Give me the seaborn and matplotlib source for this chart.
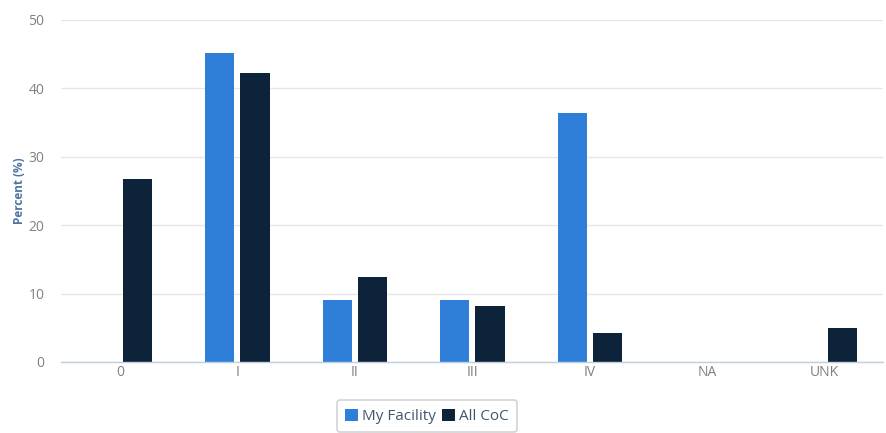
import matplotlib
matplotlib.use("Agg")
import matplotlib.pyplot as plt
import seaborn as sns
import pandas as pd

categories = ["0", "I", "II", "III", "IV", "NA", "UNK"]
my_facility = [0, 45.2, 9.1, 9.1, 36.4, 0, 0]
all_coc = [26.7, 42.3, 12.4, 8.2, 4.2, 0, 5.0]
series_names = ["My Facility", "All CoC"]

df = pd.DataFrame({
    "Stage": categories * 2,
    "Percent": my_facility + all_coc,
    "Series": [series_names[0]] * len(categories) + [series_names[1]] * len(categories),
})

sns.set_theme(style="white")
plt.rcParams["font.family"] = ["Open Sans", "DejaVu Sans"]

fig = plt.figure(figsize=(8.87, 4.33), dpi=100)
ax = fig.add_axes([0.069, 0.164, 0.927, 0.79])

palette = {"My Facility": "#2f7ed8", "All CoC": "#0d233a"}
sns.barplot(data=df, x="Stage", y="Percent", hue="Series", order=categories,
            hue_order=series_names, palette=palette, width=0.6, gap=0.17,
            linewidth=0, saturation=1, ax=ax, legend=True)

ax.set_ylim(0, 50)
ax.set_xlim(-0.5, 6.5)
ax.set_yticks([0, 10, 20, 30, 40, 50])
ax.yaxis.grid(True, color="#e6e6e6", linewidth=1)
ax.set_axisbelow(True)
for s in ["top", "right", "left"]:
    ax.spines[s].set_visible(False)
ax.spines["bottom"].set_color("#c0d0e0")
ax.spines["bottom"].set_linewidth(1)
ax.tick_params(axis="y", length=0, labelsize=10, labelcolor="#808080", pad=12)
ax.tick_params(axis="x", length=0, labelsize=10, labelcolor="#808080", pad=2)
ax.set_xlabel("")
ax.set_ylabel("Percent (%)", color="#4d759e", fontsize=8.5, fontweight="bold", labelpad=2)

leg = ax.legend(loc="upper center", bbox_to_anchor=(0.445, -0.09), ncol=2,
                frameon=True, fontsize=11, handlelength=0.8, handleheight=0.8,
                handletextpad=0.3, columnspacing=0.4, borderpad=0.55,
                fancybox=True)
leg.get_frame().set_edgecolor("#c8c8c8")
leg.get_frame().set_linewidth(1.2)
for t in leg.get_texts():
    t.set_color("#3e576f")

fig.savefig("out.png", dpi=100)
